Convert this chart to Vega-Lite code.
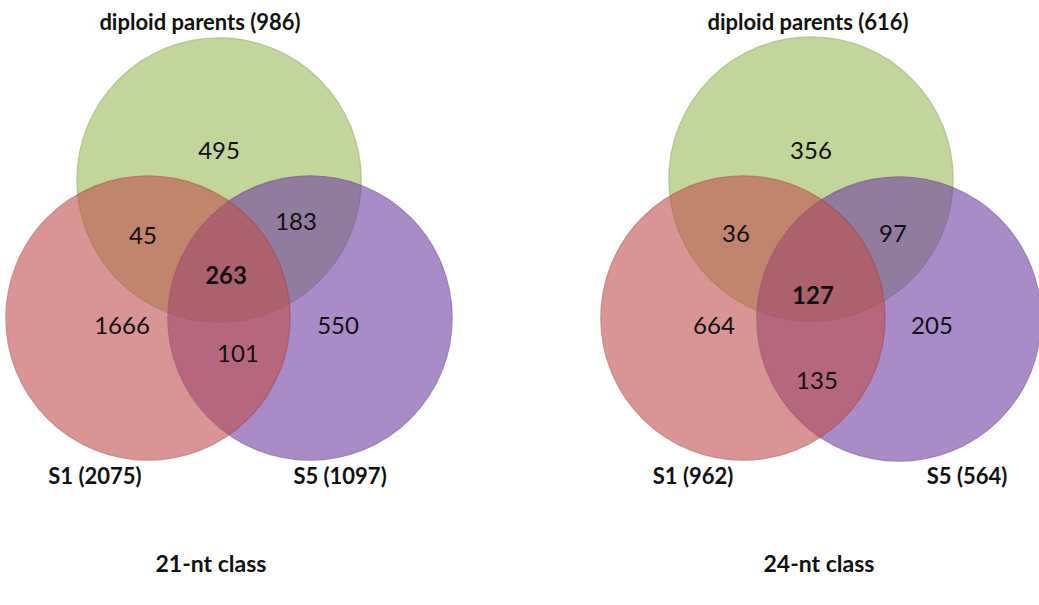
{
  "$schema": "https://vega.github.io/schema/vega-lite/v6.json",
  "width": 1039,
  "height": 605,
  "autosize": "none",
  "padding": 0,
  "background": "white",
  "config": {"view": {"stroke": null}, "text": {"font": "Lato", "color": "#111111"}},
  "datasets": {
    "circles": [
      {"panel": "21-nt class", "set": "diploid parents", "cx": 1.539, "cy": 1.265},
      {"panel": "21-nt class", "set": "S5", "cx": 2.178, "cy": 2.234},
      {"panel": "21-nt class", "set": "S1", "cx": 1.040, "cy": 2.234},
      {"panel": "24-nt class", "set": "diploid parents", "cx": 5.698, "cy": 1.258},
      {"panel": "24-nt class", "set": "S5", "cx": 6.316, "cy": 2.241},
      {"panel": "24-nt class", "set": "S1", "cx": 5.220, "cy": 2.234}
    ],
    "counts": [
      {"panel": "21-nt class", "region": "diploid parents only", "count": 495, "x": 1.539, "y": 1.068},
      {"panel": "21-nt class", "region": "diploid parents & S1", "count": 45, "x": 1.005, "y": 1.665},
      {"panel": "21-nt class", "region": "diploid parents & S5", "count": 183, "x": 2.080, "y": 1.567},
      {"panel": "21-nt class", "region": "all three", "count": 263, "x": 1.588, "y": 1.946},
      {"panel": "21-nt class", "region": "S1 only", "count": 1666, "x": 0.857, "y": 2.297},
      {"panel": "21-nt class", "region": "S5 only", "count": 550, "x": 2.375, "y": 2.297},
      {"panel": "21-nt class", "region": "S1 & S5", "count": 101, "x": 1.672, "y": 2.494},
      {"panel": "24-nt class", "region": "diploid parents only", "count": 356, "x": 5.698, "y": 1.068},
      {"panel": "24-nt class", "region": "diploid parents & S1", "count": 36, "x": 5.171, "y": 1.651},
      {"panel": "24-nt class", "region": "diploid parents & S5", "count": 97, "x": 6.274, "y": 1.651},
      {"panel": "24-nt class", "region": "all three", "count": 127, "x": 5.712, "y": 2.087},
      {"panel": "24-nt class", "region": "S1 only", "count": 664, "x": 5.016, "y": 2.297},
      {"panel": "24-nt class", "region": "S5 only", "count": 205, "x": 6.548, "y": 2.297},
      {"panel": "24-nt class", "region": "S1 & S5", "count": 135, "x": 5.740, "y": 2.684}
    ],
    "setLabels": [
      {"panel": "21-nt class", "set": "diploid parents", "label": "diploid parents (986)", "x": 1.405, "y": 0.162},
      {"panel": "21-nt class", "set": "S1", "label": "S1 (2075)", "x": 0.667, "y": 3.351},
      {"panel": "21-nt class", "set": "S5", "label": "S5 (1097)", "x": 2.389, "y": 3.351},
      {"panel": "24-nt class", "set": "diploid parents", "label": "diploid parents (616)", "x": 5.677, "y": 0.162},
      {"panel": "24-nt class", "set": "S1", "label": "S1 (962)", "x": 4.869, "y": 3.351},
      {"panel": "24-nt class", "set": "S5", "label": "S5 (564)", "x": 6.794, "y": 3.351}
    ],
    "titles": [
      {"panel": "21-nt class", "x": 1.482, "y": 3.97},
      {"panel": "24-nt class", "x": 5.754, "y": 3.97}
    ]
  },
  "layer": [
    {
      "data": {"name": "circles"},
      "mark": {"type": "point", "shape": "circle", "filled": true, "opacity": 0.6, "strokeWidth": 1.5},
      "encoding": {
        "x": {"field": "cx", "type": "quantitative", "scale": {"domain": [0, 7.3], "nice": false, "zero": false}, "axis": null},
        "y": {"field": "cy", "type": "quantitative", "scale": {"domain": [0, 4.25], "nice": false, "zero": false, "reverse": true}, "axis": null},
        "color": {"field": "set", "type": "nominal", "scale": {"domain": ["diploid parents", "S1", "S5"], "range": ["#9bbb59", "#c0504d", "#7140a3"]}, "legend": null},
        "stroke": {"field": "set", "type": "nominal", "scale": {"domain": ["diploid parents", "S1", "S5"], "range": ["#86a548", "#aa4340", "#61348f"]}, "legend": null},
        "size": {"value": 80656}
      }
    },
    {
      "data": {"name": "counts"},
      "transform": [{"filter": "datum.region !== 'all three'"}],
      "mark": {"type": "text", "fontSize": 24, "baseline": "middle", "align": "center"},
      "encoding": {
        "x": {"field": "x", "type": "quantitative"},
        "y": {"field": "y", "type": "quantitative"},
        "text": {"field": "count", "type": "quantitative"}
      }
    },
    {
      "data": {"name": "counts"},
      "transform": [{"filter": "datum.region === 'all three'"}],
      "mark": {"type": "text", "fontSize": 24, "fontWeight": "bold", "baseline": "middle", "align": "center"},
      "encoding": {
        "x": {"field": "x", "type": "quantitative"},
        "y": {"field": "y", "type": "quantitative"},
        "text": {"field": "count", "type": "quantitative"}
      }
    },
    {
      "data": {"name": "setLabels"},
      "mark": {"type": "text", "fontSize": 22, "fontWeight": "bold", "baseline": "middle", "align": "center"},
      "encoding": {
        "x": {"field": "x", "type": "quantitative"},
        "y": {"field": "y", "type": "quantitative"},
        "text": {"field": "label", "type": "nominal"}
      }
    },
    {
      "data": {"name": "titles"},
      "mark": {"type": "text", "fontSize": 23, "fontWeight": "bold", "baseline": "middle", "align": "center"},
      "encoding": {
        "x": {"field": "x", "type": "quantitative"},
        "y": {"field": "y", "type": "quantitative"},
        "text": {"field": "panel", "type": "nominal"}
      }
    }
  ]
}
